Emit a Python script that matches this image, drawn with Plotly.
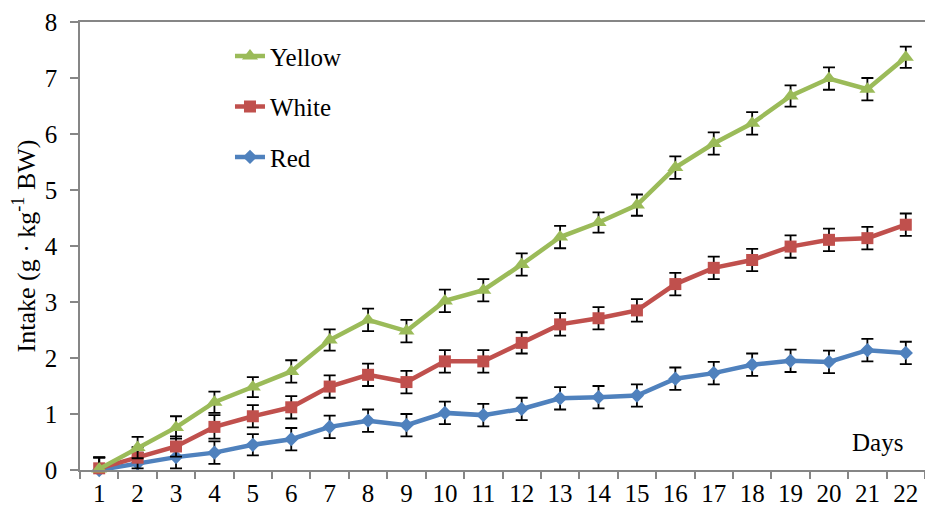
import plotly.graph_objects as go

days = [str(d) for d in range(1, 23)]

yellow = [0.02, 0.40, 0.76, 1.21, 1.48, 1.76, 2.32, 2.68, 2.48, 3.02, 3.21, 3.67,
          4.16, 4.42, 4.73, 5.40, 5.83, 6.19, 6.68, 6.99, 6.80, 7.37]
white = [0.03, 0.22, 0.42, 0.77, 0.96, 1.12, 1.49, 1.70, 1.57, 1.94, 1.94, 2.27,
         2.60, 2.71, 2.85, 3.32, 3.61, 3.75, 3.99, 4.11, 4.14, 4.38]
red = [0.00, 0.12, 0.23, 0.31, 0.45, 0.55, 0.77, 0.88, 0.80, 1.02, 0.98, 1.09,
       1.28, 1.30, 1.33, 1.63, 1.73, 1.88, 1.95, 1.93, 2.14, 2.09]

yellow_err = [0.20, 0.19, 0.20, 0.19, 0.18, 0.20, 0.19, 0.20, 0.20, 0.20, 0.20, 0.20,
              0.20, 0.18, 0.19, 0.20, 0.20, 0.20, 0.19, 0.20, 0.20, 0.19]
white_err = [0.20, 0.19, 0.18, 0.21, 0.20, 0.20, 0.20, 0.20, 0.20, 0.20, 0.20, 0.19,
             0.20, 0.20, 0.20, 0.20, 0.20, 0.20, 0.20, 0.20, 0.20, 0.20]
red_err = [0.22, 0.19, 0.20, 0.20, 0.19, 0.20, 0.20, 0.20, 0.20, 0.20, 0.20, 0.20,
           0.20, 0.20, 0.20, 0.20, 0.20, 0.20, 0.20, 0.20, 0.20, 0.20]

FONT = "Times New Roman, Liberation Serif, serif"
FS = 25

series = [
    ("Red", red, red_err, "#4F81BD", "diamond", 11, 3),
    ("White", white, white_err, "#C0504D", "square", 12, 2),
    ("Yellow", yellow, yellow_err, "#9BBB59", "triangle-up", 14, 1),
]

fig = go.Figure()
for name, vals, errs, color, sym, size, rank in series:
    fig.add_trace(go.Scatter(
        x=days, y=vals, name=name, mode="lines+markers",
        legendgroup=name, legendrank=rank,
        line=dict(color=color, width=4.5),
        marker=dict(symbol=sym, size=size, color=color),
        error_y=dict(type="data", array=errs, visible=True,
                     color="black", thickness=1.8, width=6),
        cliponaxis=False,
    ))

fig.update_layout(
    width=925, height=514,
    margin=dict(l=80, r=0, t=22, b=44, autoexpand=False),
    paper_bgcolor="white", plot_bgcolor="white",
    font=dict(family=FONT, size=FS, color="black"),
    showlegend=True,
    legend=dict(
        x=0.1775, y=0.975, xanchor="left", yanchor="top",
        traceorder="grouped", tracegroupgap=15,
        font=dict(family=FONT, size=25, color="black"),
        bgcolor="rgba(0,0,0,0)",
    ),
    xaxis=dict(
        type="category", categoryorder="array", categoryarray=days,
        range=[-0.5, 21.5], automargin=False,
        showline=True, linecolor="#868686", linewidth=1.5,
        mirror=True,
        ticks="outside", ticklen=7, tickcolor="#868686", tickwidth=1.5,
        tickson="boundaries",
        showgrid=False, zeroline=False,
        tickfont=dict(family=FONT, size=FS, color="black"),
    ),
    yaxis=dict(
        range=[0, 8], dtick=1, automargin=False,
        showline=True, linecolor="#868686", linewidth=1.5,
        ticks="outside", ticklen=8, tickcolor="#868686", tickwidth=1.5,
        ticklabelstandoff=8,
        showgrid=False, zeroline=False,
        tickfont=dict(family=FONT, size=FS, color="black"),
        title=dict(text="Intake (g · kg<sup>-1</sup> BW)",
                   font=dict(family=FONT, size=26, color="black"),
                   standoff=2),
    ),
    annotations=[dict(
        text="Days", xref="paper", yref="paper", x=0.944, y=0.062,
        xanchor="center", yanchor="middle", showarrow=False,
        font=dict(family=FONT, size=FS, color="black"),
    )],
)

fig.write_html(
    "out.html",
    config={"displayModeBar": False},
    post_script="document.body.style.margin='0';document.body.style.padding='0';",
)
